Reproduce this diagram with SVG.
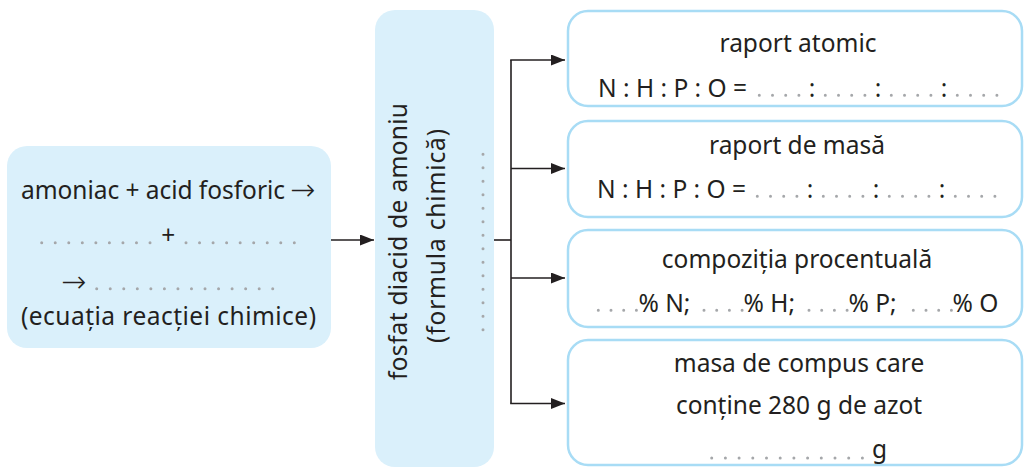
<svg xmlns="http://www.w3.org/2000/svg" width="1024" height="468" viewBox="0 0 1024 468">
<defs>
<style>
.t{font-family:"Noto Sans","Open Sans",sans-serif;font-size:24.5px;fill:#231f20}
.m{text-anchor:middle}
.arr{font-family:"DejaVu Sans",sans-serif;font-size:30px;font-weight:200;fill:#231f20}
.fill{fill:#daf0fb;stroke:none}
.out{fill:#ffffff;stroke:#a8dcf5;stroke-width:2.5}
.dots{stroke:#a5a7aa;stroke-width:3;stroke-linecap:round;fill:none}
.con{stroke:#231f20;stroke-width:1.6;fill:none}
</style>
<marker id="ah" viewBox="0 0 14 11" refX="14" refY="5.5" markerWidth="14" markerHeight="11" markerUnits="userSpaceOnUse" orient="auto">
<path d="M0,0 L14,5.5 L0,11 Z" fill="#231f20"/>
</marker>
</defs>
<rect width="1024" height="468" fill="#ffffff"/>

<g id="connectors">
<line class="con" x1="331" y1="240" x2="374" y2="240" marker-end="url(#ah)"/>
<line class="con" x1="494" y1="240" x2="511" y2="240"/>
<line class="con" x1="511" y1="60" x2="511" y2="403.5"/>
<line class="con" x1="510.2" y1="60" x2="565" y2="60" marker-end="url(#ah)"/>
<line class="con" x1="511" y1="168.5" x2="565" y2="168.5" marker-end="url(#ah)"/>
<line class="con" x1="511" y1="278" x2="565" y2="278" marker-end="url(#ah)"/>
<line class="con" x1="510.2" y1="403.5" x2="565" y2="403.5" marker-end="url(#ah)"/>
</g>

<g id="reaction">
<rect class="fill" x="7" y="146" width="324" height="202" rx="20"/>
<text class="t" x="21" y="199" textLength="264" lengthAdjust="spacing">amoniac + acid fosforic</text>
<text class="arr" x="290" y="200">→</text>
<line class="dots" x1="41.7" y1="242.7" x2="150.05" y2="242.7" stroke-dasharray="0 13.54"/>
<text class="t m" x="168.3" y="244">+</text>
<line class="dots" x1="186" y1="242.7" x2="294.35" y2="242.7" stroke-dasharray="0 13.54"/>
<text class="arr" x="61" y="291.7">→</text>
<line class="dots" x1="96.7" y1="288.7" x2="272.75" y2="288.7" stroke-dasharray="0 13.54"/>
<text class="t" x="21" y="325" textLength="295" lengthAdjust="spacing">(ecuația reacției chimice)</text>
</g>

<g id="compound">
<rect class="fill" x="375" y="10" width="119" height="457" rx="20"/>
<text class="t m" transform="translate(407,241.5) rotate(-90)" textLength="277" lengthAdjust="spacing">fosfat diacid de amoniu</text>
<text class="t m" transform="translate(445,236) rotate(-90)" textLength="214" lengthAdjust="spacing">(formula chimică)</text>
<line class="dots" x1="483" y1="154.3" x2="483" y2="329.85" stroke-dasharray="0 13.5"/>
</g>

<g id="atomic-ratio">
<rect class="out" x="568" y="11" width="454" height="95" rx="20"/>
<text class="t m" x="798" y="52">raport atomic</text>
<text class="t" x="598" y="97">N : H : P : O =</text>
<line class="dots" x1="759.3" y1="95.3" x2="798.95" y2="95.3" stroke-dasharray="0 13.2"/>
<text class="t m" x="812.1" y="97">:</text>
<line class="dots" x1="825.3" y1="95.3" x2="864.95" y2="95.3" stroke-dasharray="0 13.2"/>
<text class="t m" x="878.1" y="97">:</text>
<line class="dots" x1="891.3" y1="95.3" x2="930.95" y2="95.3" stroke-dasharray="0 13.2"/>
<text class="t m" x="944.1" y="97">:</text>
<line class="dots" x1="957.3" y1="95.3" x2="996.95" y2="95.3" stroke-dasharray="0 13.2"/>
</g>

<g id="mass-ratio">
<rect class="out" x="568" y="121" width="454" height="96" rx="20"/>
<text class="t m" x="797" y="154">raport de masă</text>
<text class="t" x="597" y="198">N : H : P : O =</text>
<line class="dots" x1="757.3" y1="196.3" x2="796.95" y2="196.3" stroke-dasharray="0 13.2"/>
<text class="t m" x="810.1" y="198">:</text>
<line class="dots" x1="823.3" y1="196.3" x2="862.95" y2="196.3" stroke-dasharray="0 13.2"/>
<text class="t m" x="876.1" y="198">:</text>
<line class="dots" x1="889.3" y1="196.3" x2="928.95" y2="196.3" stroke-dasharray="0 13.2"/>
<text class="t m" x="942.1" y="198">:</text>
<line class="dots" x1="955.3" y1="196.3" x2="994.95" y2="196.3" stroke-dasharray="0 13.2"/>
</g>

<g id="percent-composition">
<rect class="out" x="568" y="230" width="454" height="97" rx="20"/>
<text class="t m" x="797" y="268">compoziția procentuală</text>
<line class="dots" x1="598.3" y1="310.3" x2="636.45" y2="310.3" stroke-dasharray="0 12.7"/>
<text class="t" x="638.5" y="312">% N;</text>
<line class="dots" x1="704" y1="310.3" x2="742.15" y2="310.3" stroke-dasharray="0 12.7"/>
<text class="t" x="743.5" y="312">% H;</text>
<line class="dots" x1="809" y1="310.3" x2="847.15" y2="310.3" stroke-dasharray="0 12.7"/>
<text class="t" x="848.5" y="312">% P;</text>
<line class="dots" x1="913.3" y1="310.3" x2="951.45" y2="310.3" stroke-dasharray="0 12.7"/>
<text class="t" x="952.5" y="312">% O</text>
</g>

<g id="mass-nitrogen">
<rect class="out" x="568" y="340" width="454" height="125" rx="20"/>
<text class="t m" x="799" y="372">masa de compus care</text>
<text class="t m" x="799" y="414">conține 280 g de azot</text>
<line class="dots" x1="711.7" y1="458" x2="862.45" y2="458" stroke-dasharray="0 13.7"/>
<text class="t" x="872" y="458">g</text>
</g>
</svg>
